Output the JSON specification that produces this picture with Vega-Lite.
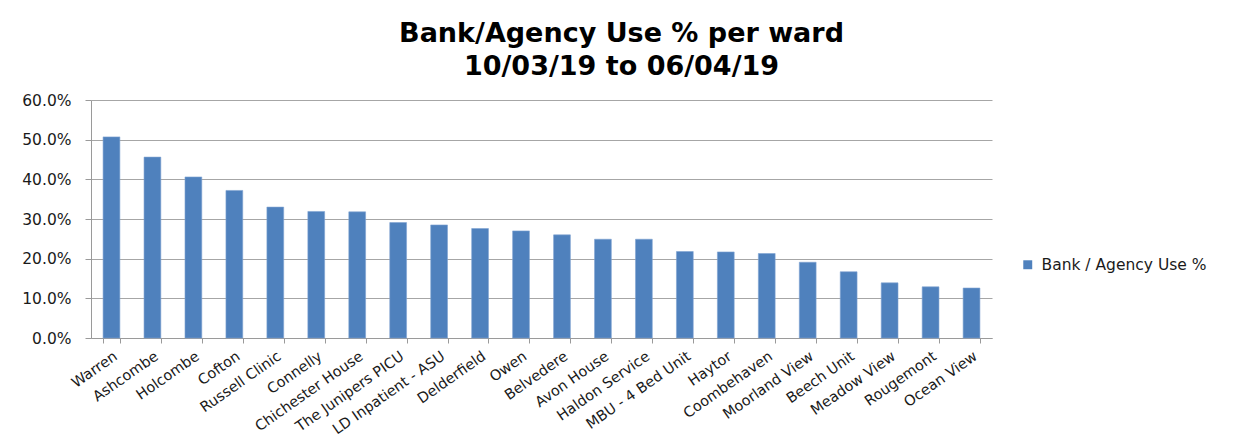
{
  "$schema": "https://vega.github.io/schema/vega-lite/v6.json",
  "autosize": {"type": "none"},
  "padding": {"left": 91, "top": 100, "right": 247, "bottom": 108},
  "width": 901,
  "height": 238,
  "background": "white",
  "title": {
    "text": ["Bank/Agency Use % per ward", "10/03/19 to 06/04/19"],
    "font": "DejaVu Sans",
    "fontWeight": "bold",
    "fontSize": 27,
    "lineHeight": 33,
    "color": "#000000",
    "anchor": "middle",
    "dx": 80,
    "offset": 12
  },
  "data": {
    "values": [
      {"ward": "Warren", "pct": 0.507},
      {"ward": "Ashcombe", "pct": 0.456},
      {"ward": "Holcombe", "pct": 0.406},
      {"ward": "Cofton", "pct": 0.372},
      {"ward": "Russell Clinic", "pct": 0.330},
      {"ward": "Connelly", "pct": 0.319},
      {"ward": "Chichester House", "pct": 0.318},
      {"ward": "The Junipers PICU", "pct": 0.291},
      {"ward": "LD Inpatient - ASU", "pct": 0.285},
      {"ward": "Delderfield", "pct": 0.276},
      {"ward": "Owen", "pct": 0.270},
      {"ward": "Belvedere", "pct": 0.260},
      {"ward": "Avon House", "pct": 0.249},
      {"ward": "Haldon Service", "pct": 0.249},
      {"ward": "MBU - 4 Bed Unit", "pct": 0.218},
      {"ward": "Haytor", "pct": 0.217},
      {"ward": "Coombehaven", "pct": 0.213},
      {"ward": "Moorland View", "pct": 0.191},
      {"ward": "Beech Unit", "pct": 0.167},
      {"ward": "Meadow View", "pct": 0.139},
      {"ward": "Rougemont", "pct": 0.129},
      {"ward": "Ocean View", "pct": 0.126}
    ]
  },
  "mark": {"type": "bar", "stroke": "#7FA3D1", "strokeWidth": 0.6},
  "encoding": {
    "x": {
      "field": "ward",
      "type": "nominal",
      "sort": null,
      "scale": {"paddingInner": 0.59, "paddingOuter": 0.295},
      "axis": {
        "title": null,
        "labelAngle": -35,
        "labelFont": "DejaVu Sans",
        "labelFontSize": 14.5,
        "labelColor": "#1a1a1a",
        "labelPadding": 6,
        "labelOverlap": false,
        "tickBand": "extent",
        "tickSize": 5,
        "tickColor": "#9a9a9a",
        "domainColor": "#9a9a9a",
        "grid": false
      }
    },
    "y": {
      "field": "pct",
      "type": "quantitative",
      "scale": {"domain": [0, 0.6], "nice": false},
      "axis": {
        "title": null,
        "values": [0, 0.1, 0.2, 0.3, 0.4, 0.5, 0.6],
        "format": ".1%",
        "labelFont": "DejaVu Sans",
        "labelFontSize": 15.5,
        "labelColor": "#1a1a1a",
        "labelPadding": 14,
        "tickSize": 6,
        "tickColor": "#9a9a9a",
        "domainColor": "#9a9a9a",
        "gridColor": "#a6a6a6",
        "gridWidth": 1
      }
    },
    "color": {
      "datum": "Bank / Agency Use %",
      "type": "nominal",
      "scale": {"range": ["#4F81BD"]},
      "legend": {
        "title": null,
        "orient": "none",
        "legendX": 929,
        "legendY": 157,
        "symbolType": "square",
        "symbolSize": 80,
        "symbolStrokeWidth": 0,
        "labelFont": "DejaVu Sans",
        "labelFontSize": 15.5,
        "labelLimit": 400,
        "labelColor": "#1a1a1a",
        "labelOffset": 6
      }
    }
  },
  "config": {
    "view": {"stroke": null}
  }
}
